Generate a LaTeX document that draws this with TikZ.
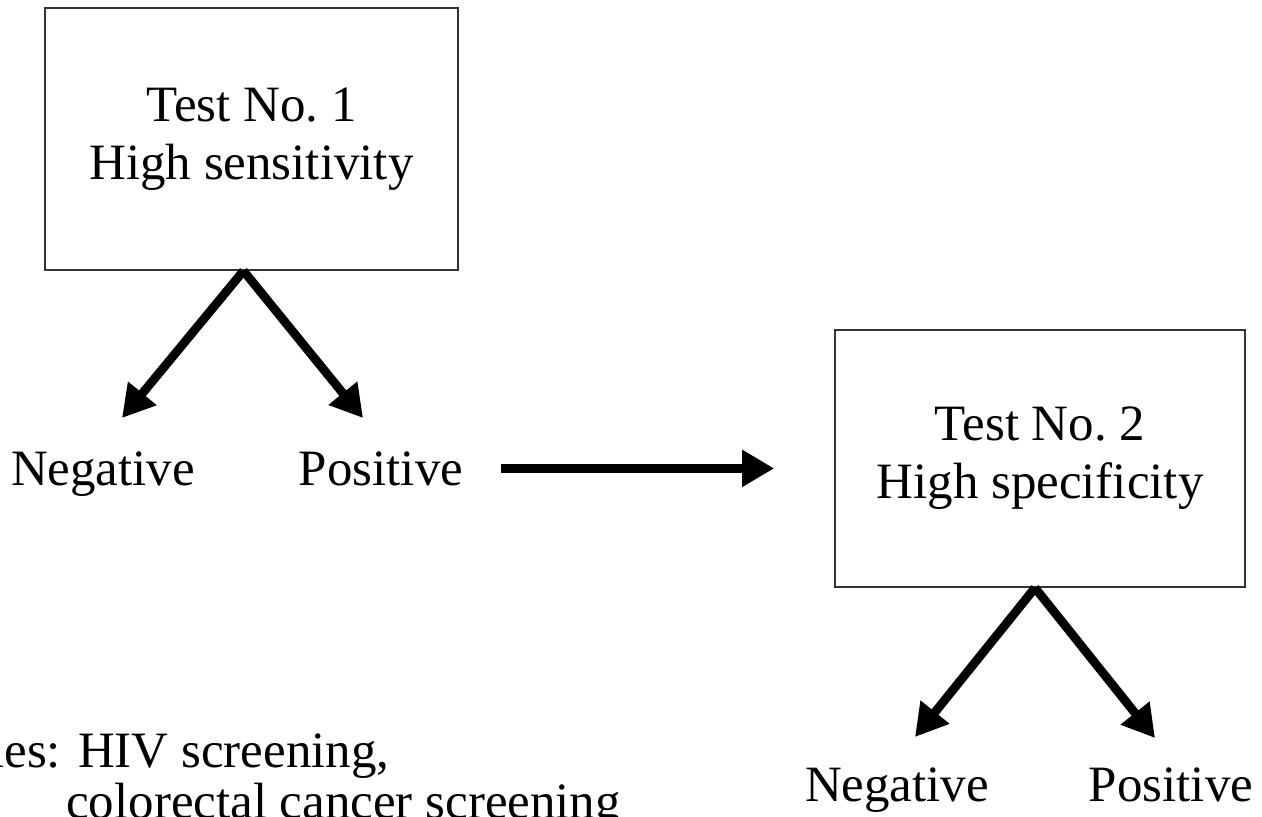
\documentclass[tikz,border=0pt]{standalone}
\usepackage{fontspec}
\setmainfont{Liberation Serif}
\usetikzlibrary{arrows.meta}
\tikzset{
  testbox/.style={draw=black!80,line width=1pt,align=center,inner sep=0pt},
  bigarrow/.style={line width=5pt,-{Triangle[length=0.64cm,width=0.7cm]}},
  result/.style={anchor=base,inner sep=0pt}
}

\begin{document}
\begin{tikzpicture}[x=0.02cm,y=-0.02cm,every node/.style={font=\fontsize{29}{33}\selectfont}]
  \useasboundingbox (0,0) rectangle (1262,816);
  \clip (0,0) rectangle (1262,816);
  % first test
  \node[testbox,minimum width=8.26cm,minimum height=5.24cm] (test1) at (251.5,139) {Test No.~1\\High sensitivity};
  \node[result] (neg1) at (103,485) {Negative};
  \node[result] (pos1) at (381,485) {Positive};
  \coordinate (neg1tip) at (122,418);
  \coordinate (pos1tip) at (363,418);
  \draw[bigarrow] ([xshift=-0.16cm]test1.south) -- (neg1tip);
  \draw[bigarrow] ([xshift=-0.16cm]test1.south) -- (pos1tip);
  % second test
  \node[testbox,minimum width=8.2cm,minimum height=5.14cm] (test2) at (1040,458.5) {Test No.~2\\High specificity};
  \draw[bigarrow,shorten <=0.76cm,shorten >=1.2cm] (pos1.east) -- (pos1.east -| test2.west);
  \node[result] (neg2) at (897,801) {Negative};
  \node[result] (pos2) at (1171,801) {Positive};
  \coordinate (neg2tip) at (915,737);
  \coordinate (pos2tip) at (1155,738);
  \draw[bigarrow] ([xshift=-0.1cm]test2.south) -- (neg2tip);
  \draw[bigarrow] ([xshift=-0.1cm]test2.south) -- (pos2tip);
  % examples
  \node[anchor=base west,inner sep=0pt] (ex1) at (-10,767) {les: HIV screening,};
  \node[anchor=base west,inner sep=0pt] (ex2) at (66,818) {colorectal cancer screening};
\end{tikzpicture}
\end{document}
